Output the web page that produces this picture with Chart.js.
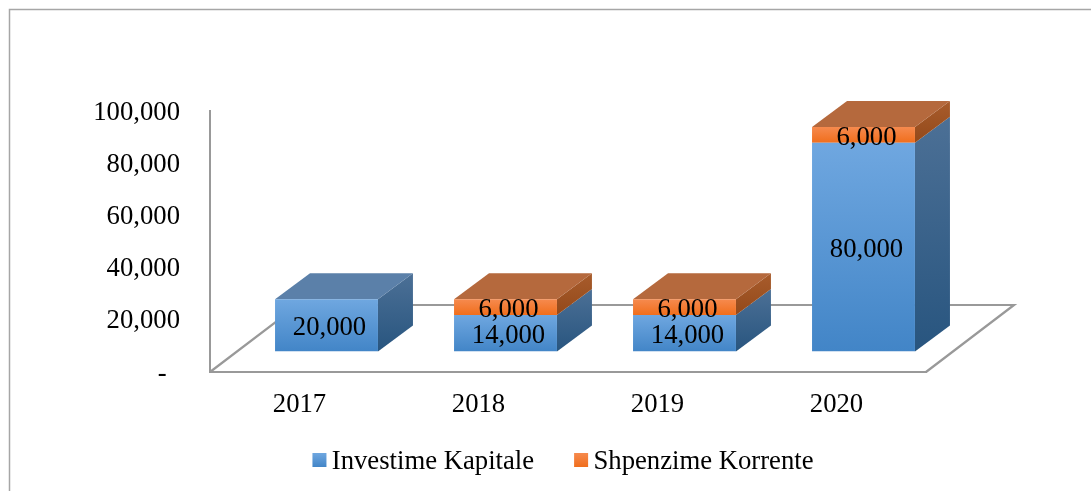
<!DOCTYPE html>
<html>
<head>
<meta charset="utf-8">
<style>html,body{margin:0;padding:0;background:#fff}canvas{display:block}</style>
<script src="https://cdn.jsdelivr.net/npm/chart.js@4"></script>
</head>
<body>
<div style="width:1091px;height:491px;position:relative"><canvas id="c"></canvas></div>
<script>
const categories = ['2017', '2018', '2019', '2020'];
const investimeKapitale = [20000, 14000, 14000, 80000];
const shpenzimeKorrente = [0, 6000, 6000, 6000];
const seriesNames = ['Investime Kapitale', 'Shpenzime Korrente'];
const yTicks = [0, 20000, 40000, 60000, 80000, 100000];

const FONT = '"Liberation Serif", "Times New Roman", serif';
const FONT_SIZE = 26.7;
const GRID = '#999999';
// Projection of the 3D look
const SHIFT = {x: 27, y: -20.5};
const DEPTH = {x: 35, y: -26};
const FLOOR = {x: 88, y: -67};
const LEG = {centre: 563, textMid: 462};

const FRONT = [['#6fa7e0', '#4285c7'], ['#f68a4e', '#f06e1c']];
const SIDE = [['#4c7096', '#28557f'], ['#a85c2c', '#93491a']];
const TOP = ['#5b80a9', '#b5693d'];

function linear(ctx, y0, y1, c) {
  const g = ctx.createLinearGradient(0, y0, 0, y1);
  g.addColorStop(0, c[0]); g.addColorStop(1, c[1]);
  return g;
}
function poly(ctx, pts, fill) {
  ctx.beginPath();
  pts.forEach((p, i) => i ? ctx.lineTo(p[0], p[1]) : ctx.moveTo(p[0], p[1]));
  ctx.closePath();
  ctx.fillStyle = fill;
  ctx.fill();
}
function frontFill(i) {
  return (c) => {
    const y = c.chart.scales.y;
    if (!y || c.dataIndex === undefined || c.parsed === undefined) return FRONT[i][0];
    const base = i === 0 ? 0 : investimeKapitale[c.dataIndex];
    const top = base + c.raw;
    return linear(c.chart.ctx, y.getPixelForValue(top), y.getPixelForValue(base), FRONT[i]);
  };
}

const look3d = {
  id: 'look3d',
  afterLayout(chart) {
    const lg = chart.legend;
    const pad = lg.options.labels.padding;
    lg.left = LEG.centre - 700;
    lg.right = LEG.centre + 700;
    lg.top = LEG.textMid - FONT_SIZE / 2 - pad;
    const y = chart.scales.y;
    if (!y._nudged) {
      const draw = y.drawLabels;
      y.drawLabels = function (area) {
        chart.ctx.save();
        chart.ctx.translate(0, 1.5);
        draw.call(this, area);
        chart.ctx.restore();
      };
      y._nudged = true;
    }
  },
  beforeDraw(chart) {
    const ctx = chart.ctx;
    ctx.save();
    ctx.strokeStyle = '#a6a6a6';
    ctx.lineWidth = 1.5;
    ctx.beginPath();
    ctx.moveTo(9.5, 491);
    ctx.lineTo(9.5, 9.5);
    ctx.lineTo(1091, 9.5);
    ctx.stroke();
    ctx.restore();
  },
  beforeDatasetsDraw(chart) {
    const ctx = chart.ctx, a = chart.chartArea;
    ctx.save();
    // Floor outline
    ctx.strokeStyle = GRID;
    ctx.lineWidth = 2.2;
    ctx.beginPath();
    ctx.moveTo(a.left, a.bottom);
    ctx.lineTo(a.left + FLOOR.x, a.bottom + FLOOR.y);
    ctx.lineTo(a.right + FLOOR.x, a.bottom + FLOOR.y);
    ctx.lineTo(a.right, a.bottom);
    ctx.stroke();
    ctx.translate(SHIFT.x, SHIFT.y);
    // Depth faces of each bar
    categories.forEach((_, k) => {
      let lastTop = null, lastEl = null;
      [0, 1].forEach((s) => {
        const el = chart.getDatasetMeta(s).data[k];
        const v = chart.data.datasets[s].data[k];
        if (!v) return;
        const r = el.x + el.width / 2;
        poly(ctx, [[r, el.y], [r + DEPTH.x, el.y + DEPTH.y], [r + DEPTH.x, el.base + DEPTH.y], [r, el.base]],
          linear(ctx, el.y + DEPTH.y, el.base, SIDE[s]));
        lastTop = s; lastEl = el;
      });
      const l = lastEl.x - lastEl.width / 2, r = lastEl.x + lastEl.width / 2, y = lastEl.y;
      poly(ctx, [[l, y], [l + DEPTH.x, y + DEPTH.y], [r + DEPTH.x, y + DEPTH.y], [r, y]], TOP[lastTop]);
    });
  },
  afterDatasetsDraw(chart) {
    const ctx = chart.ctx;
    ctx.restore();
    ctx.save();
    ctx.font = FONT_SIZE + 'px ' + FONT;
    ctx.fillStyle = '#000';
    ctx.textAlign = 'center';
    ctx.textBaseline = 'middle';
    [0, 1].forEach((s) => {
      chart.getDatasetMeta(s).data.forEach((el, k) => {
        const v = chart.data.datasets[s].data[k];
        if (!v) return;
        ctx.fillText(v.toLocaleString('en-US'), el.x + SHIFT.x + 3, (el.y + el.base) / 2 + SHIFT.y + 3);
      });
    });
    ctx.restore();
  },
  afterDraw(chart) {
    // Legend swatches, placed on the legend's own hit boxes
    const ctx = chart.ctx;
    chart.legend.legendHitBoxes.forEach((h, i) => {
      const y = LEG.textMid - 9;
      ctx.fillStyle = linear(ctx, y, y + 14, FRONT[i]);
      ctx.fillRect(h.left, y, 14, 14);
    });
  }
};

new Chart(document.getElementById('c'), {
  type: 'bar',
  plugins: [look3d],
  data: {
    labels: categories,
    datasets: [
      {label: seriesNames[0], data: investimeKapitale, backgroundColor: frontFill(0), stack: 's'},
      {label: seriesNames[1], data: shpenzimeKorrente, backgroundColor: frontFill(1), stack: 's'}
    ]
  },
  options: {
    responsive: true,
    maintainAspectRatio: false,
    animation: false,
    layout: {padding: {left: 0, right: 165, top: 111, bottom: 0}},
    datasets: {bar: {categoryPercentage: 1, barPercentage: 0.575}},
    plugins: {
      tooltip: {enabled: false},
      legend: {
        position: 'bottom',
        maxHeight: 1,
        labels: {
          boxWidth: 6,
          boxHeight: 1,
          padding: 40,
          color: '#000',
          font: {family: FONT, size: FONT_SIZE},
          generateLabels: (chart) => chart.data.datasets.map((d, i) => ({
            text: d.label, fillStyle: 'rgba(0,0,0,0)', strokeStyle: 'rgba(0,0,0,0)',
            lineWidth: 0, hidden: false, datasetIndex: i
          }))
        }
      }
    },
    scales: {
      x: {
        stacked: true,
        grid: {display: false},
        border: {display: true, color: GRID, width: 2},
        ticks: {color: '#000', padding: 9, maxRotation: 0, font: {family: FONT, size: FONT_SIZE}},
        afterFit: (s) => { s.height = 118; }
      },
      y: {
        stacked: true,
        min: yTicks[0],
        max: yTicks[yTicks.length - 1],
        afterBuildTicks: (s) => { s.ticks = yTicks.map((value) => ({value})); },
        grid: {display: false},
        border: {display: true, color: GRID, width: 2},
        ticks: {
          color: '#000', padding: 22,
          font: {family: FONT, size: FONT_SIZE},
          callback: (v) => v === 0 ? '-  ' : v.toLocaleString('en-US')
        },
        afterFit: (s) => { s.width = 210; }
      }
    }
  }
});
</script>
</body>
</html>
